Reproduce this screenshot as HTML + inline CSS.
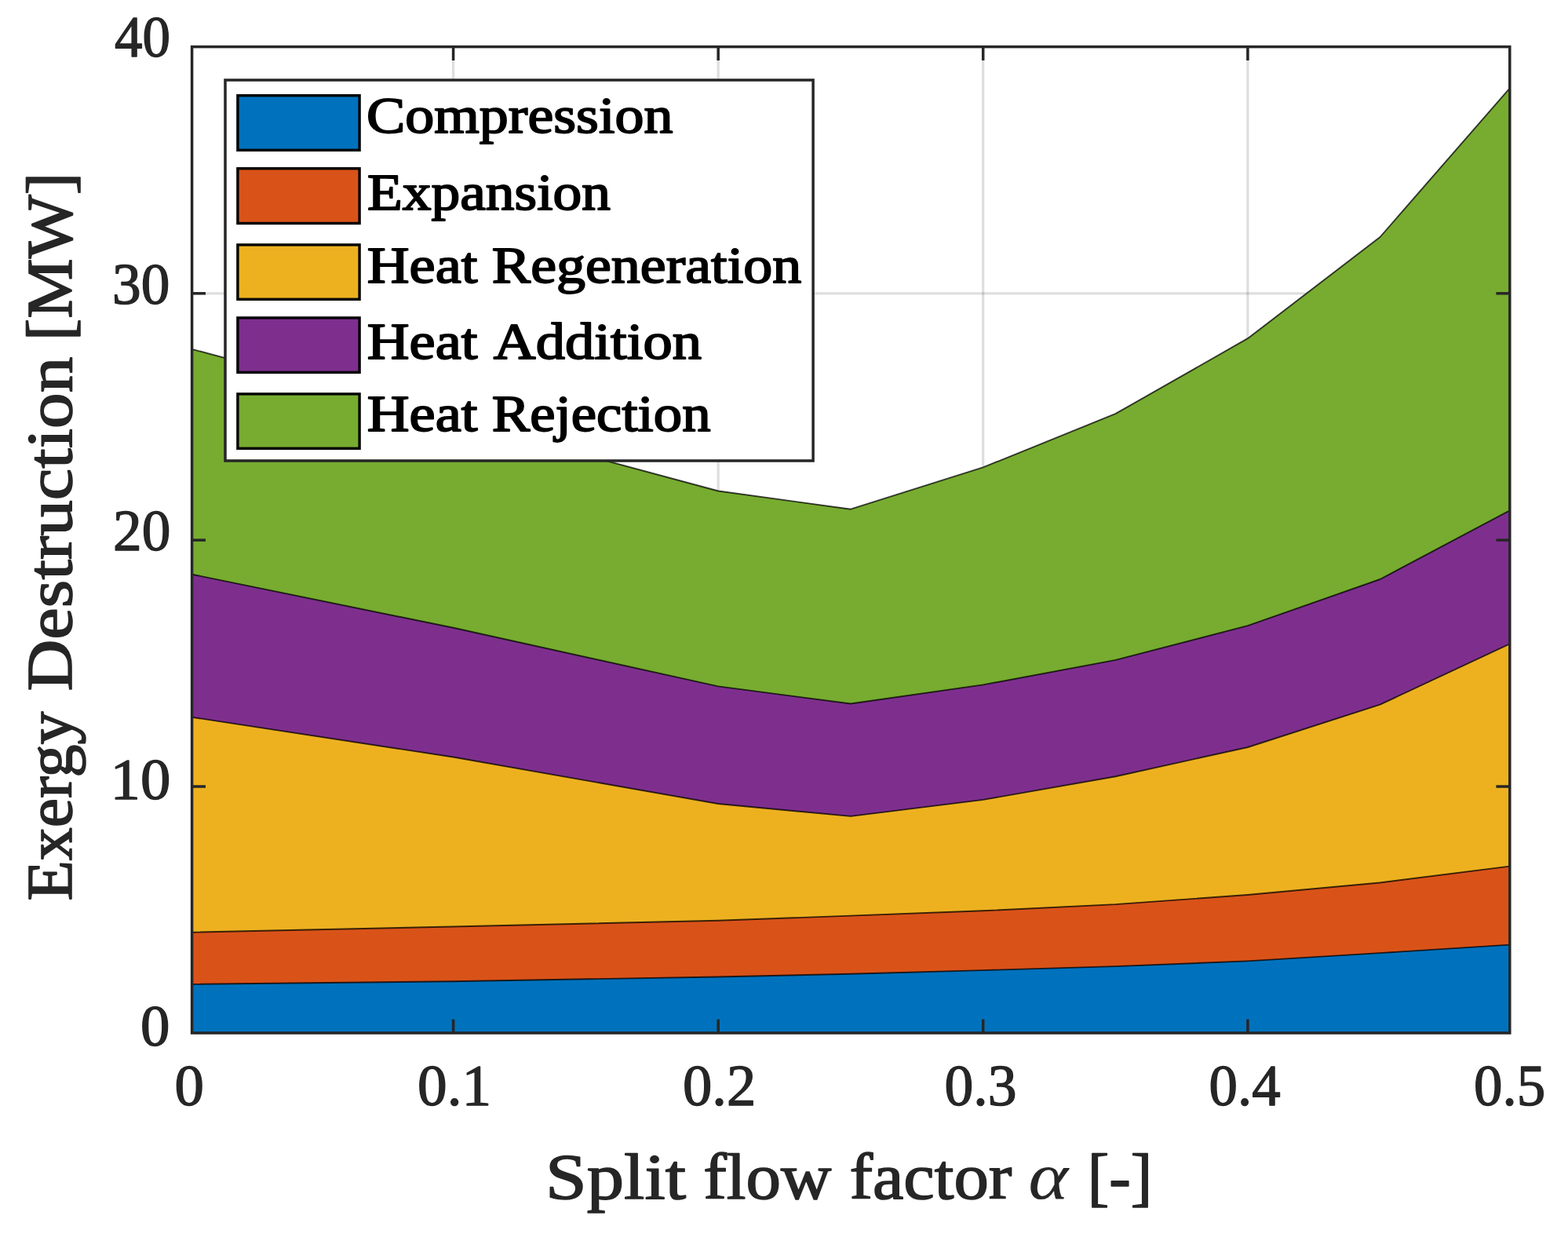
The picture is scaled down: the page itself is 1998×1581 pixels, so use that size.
<!DOCTYPE html>
<html lang="en"><head><meta charset="utf-8"><title>Exergy Destruction vs Split flow factor</title>
<style>html,body{margin:0;padding:0;background:#fff;}body{width:1998px;height:1581px;overflow:hidden;}svg{display:block;}text{font-family:"Liberation Serif",serif;}.tk{font-size:73.5px;font-weight:normal;font-style:normal;fill:#262626;stroke:#262626;stroke-width:1.4;stroke-linejoin:round;}.lb{font-size:83.5px;font-weight:normal;font-style:normal;fill:#262626;stroke:#262626;stroke-width:1.6;stroke-linejoin:round;}.al{font-size:84px;font-weight:normal;font-style:italic;fill:#262626;stroke:#262626;stroke-width:0.2;stroke-linejoin:round;}.lg{font-size:66.5px;font-weight:normal;font-style:normal;fill:#000000;stroke:#000000;stroke-width:1.9;stroke-linejoin:round;}</style></head><body>
<svg width="1998" height="1581" viewBox="0 0 1998 1581">
<rect x="0" y="0" width="1998" height="1581" fill="#ffffff"/>
<defs><clipPath id="cp"><rect x="244.60" y="59.60" width="1679.20" height="1256.40"/></clipPath></defs>
<g stroke="#000" stroke-opacity="0.13" stroke-width="3.2" fill="none">
<line x1="577.60" y1="59.60" x2="577.60" y2="1316.00"/>
<line x1="915.20" y1="59.60" x2="915.20" y2="1316.00"/>
<line x1="1252.70" y1="59.60" x2="1252.70" y2="1316.00"/>
<line x1="1589.90" y1="59.60" x2="1589.90" y2="1316.00"/>
<line x1="244.60" y1="1002.00" x2="1923.80" y2="1002.00"/>
<line x1="244.60" y1="688.10" x2="1923.80" y2="688.10"/>
<line x1="244.60" y1="373.80" x2="1923.80" y2="373.80"/>
</g>
<g clip-path="url(#cp)" stroke="#000" stroke-opacity="0.75" stroke-width="1.9" stroke-linejoin="round">
<polygon fill="#77ac30" points="244.6,444.8 577.6,534.6 915.2,625.5 1084.0,648.7 1252.7,595.4 1421.3,527.2 1589.9,431.2 1758.5,302.0 1923.8,112.3 1929.8,105.4 1929.8,1322.0 238.6,1322.0 238.6,443.2"/>
<polygon fill="#7e2f8e" points="244.6,731.7 577.6,799.8 915.2,874.4 1084.0,896.5 1252.7,872.4 1421.3,840.9 1589.9,797.2 1758.5,738.0 1923.8,650.4 1929.8,647.2 1929.8,1322.0 238.6,1322.0 238.6,730.5"/>
<polygon fill="#edb120" points="244.6,913.7 577.6,964.5 915.2,1024.0 1084.0,1039.9 1252.7,1018.9 1421.3,989.2 1589.9,952.0 1758.5,897.7 1923.8,820.3 1929.8,817.5 1929.8,1322.0 238.6,1322.0 238.6,912.8"/>
<polygon fill="#d95319" points="244.6,1187.7 577.6,1180.5 915.2,1172.8 1084.0,1166.6 1252.7,1160.3 1421.3,1152.1 1589.9,1140.0 1758.5,1124.5 1923.8,1103.6 1929.8,1102.8 1929.8,1322.0 238.6,1322.0 238.6,1187.8"/>
<polygon fill="#0072bd" points="244.6,1253.9 577.6,1250.2 915.2,1244.5 1084.0,1240.7 1252.7,1236.1 1421.3,1231.1 1589.9,1224.4 1758.5,1214.1 1923.8,1203.6 1929.8,1203.2 1929.8,1322.0 238.6,1322.0 238.6,1254.0"/>
</g>
<g stroke="#262626" stroke-width="3.5" fill="none">
<line x1="577.60" y1="1316.00" x2="577.60" y2="1298.60"/>
<line x1="577.60" y1="59.60" x2="577.60" y2="77.00"/>
<line x1="915.20" y1="1316.00" x2="915.20" y2="1298.60"/>
<line x1="915.20" y1="59.60" x2="915.20" y2="77.00"/>
<line x1="1252.70" y1="1316.00" x2="1252.70" y2="1298.60"/>
<line x1="1252.70" y1="59.60" x2="1252.70" y2="77.00"/>
<line x1="1589.90" y1="1316.00" x2="1589.90" y2="1298.60"/>
<line x1="1589.90" y1="59.60" x2="1589.90" y2="77.00"/>
<line x1="244.60" y1="1002.00" x2="262.00" y2="1002.00"/>
<line x1="1923.80" y1="1002.00" x2="1906.40" y2="1002.00"/>
<line x1="244.60" y1="688.10" x2="262.00" y2="688.10"/>
<line x1="1923.80" y1="688.10" x2="1906.40" y2="688.10"/>
<line x1="244.60" y1="373.80" x2="262.00" y2="373.80"/>
<line x1="1923.80" y1="373.80" x2="1906.40" y2="373.80"/>
<rect x="244.60" y="59.60" width="1679.20" height="1256.40"/>
</g>
<rect x="287.00" y="102.00" width="749.10" height="485.00" fill="#fff" stroke="#262626" stroke-width="3.5"/>
<rect x="302.90" y="121.70" width="155.20" height="69.60" fill="#0072bd" stroke="#000" stroke-width="3.4"/>
<rect x="302.90" y="214.70" width="155.20" height="69.80" fill="#d95319" stroke="#000" stroke-width="3.4"/>
<rect x="302.90" y="311.90" width="155.20" height="69.40" fill="#edb120" stroke="#000" stroke-width="3.4"/>
<rect x="302.90" y="404.90" width="155.20" height="69.50" fill="#7e2f8e" stroke="#000" stroke-width="3.4"/>
<rect x="302.90" y="501.90" width="155.20" height="69.40" fill="#77ac30" stroke="#000" stroke-width="3.4"/>
<g id="xticklabels">
<text class="tk" x="222.50" y="1407.50" textLength="37.43" lengthAdjust="spacingAndGlyphs">0</text>
<text class="tk" x="532.00" y="1407.50" textLength="94.16" lengthAdjust="spacingAndGlyphs">0.1</text>
<text class="tk" x="870.00" y="1407.50" textLength="93.30" lengthAdjust="spacingAndGlyphs">0.2</text>
<text class="tk" x="1203.50" y="1407.50" textLength="91.99" lengthAdjust="spacingAndGlyphs">0.3</text>
<text class="tk" x="1540.50" y="1407.50" textLength="91.05" lengthAdjust="spacingAndGlyphs">0.4</text>
<text class="tk" x="1878.00" y="1407.50" textLength="91.15" lengthAdjust="spacingAndGlyphs">0.5</text>
</g>
<g id="yticklabels">
<text class="tk" x="179.00" y="1331.50" textLength="37.43" lengthAdjust="spacingAndGlyphs">0</text>
<text class="tk" x="140.50" y="1018.00" textLength="76.80" lengthAdjust="spacingAndGlyphs">10</text>
<text class="tk" x="144.00" y="700.50" textLength="73.28" lengthAdjust="spacingAndGlyphs">20</text>
<text class="tk" x="143.00" y="386.50" textLength="73.25" lengthAdjust="spacingAndGlyphs">30</text>
<text class="tk" x="146.00" y="72.00" textLength="71.06" lengthAdjust="spacingAndGlyphs">40</text>
</g>
<g id="xlabel">
<text class="lb" y="1527.00"><tspan x="695.00" textLength="179.09" lengthAdjust="spacingAndGlyphs">Split</tspan> <tspan x="896.20" textLength="163.21" lengthAdjust="spacingAndGlyphs">flow</tspan> <tspan x="1082.40" textLength="207.02" lengthAdjust="spacingAndGlyphs">factor</tspan> <tspan class="al" x="1310.60" textLength="50.60" lengthAdjust="spacingAndGlyphs">α</tspan> <tspan x="1385.70" textLength="82.58" lengthAdjust="spacingAndGlyphs">[-]</tspan></text>
</g>
<g id="ylabel" transform="translate(91.0,1146.6) rotate(-90)">
<text class="lb" y="0.00"><tspan x="-1.00" textLength="241.00" lengthAdjust="spacingAndGlyphs">Exergy</tspan> <tspan x="266.00" textLength="426.00" lengthAdjust="spacingAndGlyphs">Destruction</tspan> <tspan x="712.30" textLength="214.67" lengthAdjust="spacingAndGlyphs">[MW]</tspan></text>
</g>
<g id="legend">
<text class="lg" y="169.00"><tspan x="467.00" textLength="390.41" lengthAdjust="spacingAndGlyphs">Compression</tspan></text>
<text class="lg" y="266.60"><tspan x="468.00" textLength="310.00" lengthAdjust="spacingAndGlyphs">Expansion</tspan></text>
<text class="lg" y="359.70"><tspan x="467.70" textLength="140.80" lengthAdjust="spacingAndGlyphs">Heat</tspan> <tspan x="626.80" textLength="394.40" lengthAdjust="spacingAndGlyphs">Regeneration</tspan></text>
<text class="lg" y="456.90"><tspan x="467.70" textLength="140.80" lengthAdjust="spacingAndGlyphs">Heat</tspan> <tspan x="628.80" textLength="265.20" lengthAdjust="spacingAndGlyphs">Addition</tspan></text>
<text class="lg" y="549.20"><tspan x="467.70" textLength="140.80" lengthAdjust="spacingAndGlyphs">Heat</tspan> <tspan x="626.80" textLength="278.80" lengthAdjust="spacingAndGlyphs">Rejection</tspan></text>
</g>
</svg>
</body></html>
